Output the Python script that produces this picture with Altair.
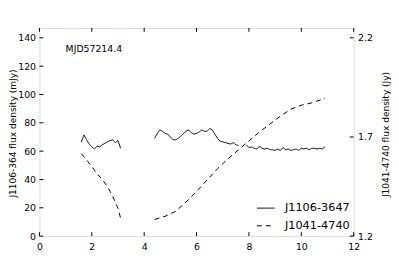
import altair as alt
import pandas as pd

# ---------------- data ----------------
series_names = ["J1106-3647", "J1041-4740"]

# J1106-3647 (mJy), three segments
s1_x = [1.6, 1.7, 1.8, 1.9, 2.0, 2.1, 2.2, 2.3, 2.4, 2.5, 2.6, 2.7, 2.8, 2.9, 3.0, 3.1]
s1_y = [66.5, 71.5, 68, 65, 63, 61.5, 63.5, 63, 64.5, 65.5, 66.5, 67.5, 68, 66, 67.5, 62]
s2_x = [4.4, 4.5, 4.6, 4.7, 4.8, 4.9, 5.0, 5.1, 5.2, 5.3, 5.4, 5.5, 5.6, 5.7, 5.8, 5.9, 6.0,
        6.1, 6.2, 6.3, 6.4, 6.5, 6.6, 6.7, 6.8, 6.9, 7.0, 7.1, 7.2, 7.3, 7.4, 7.5, 7.6]
s2_y = [69, 72.5, 75, 74, 72.5, 72, 70, 68, 68, 69, 70.5, 72.5, 74, 75, 73, 72, 72.5,
        73.5, 75, 74, 74, 76, 75, 72, 69, 67, 66.5, 66, 65.5, 65, 66, 64.5, 64]
s3_x = [7.9, 8.0, 8.1, 8.2, 8.3, 8.4, 8.5, 8.6, 8.7, 8.8, 8.9, 9.0, 9.1, 9.2, 9.3, 9.4,
        9.5, 9.6, 9.7, 9.8, 9.9, 10.0, 10.1, 10.2, 10.3, 10.4, 10.5, 10.6, 10.7, 10.8, 10.9]
s3_y = [64.5, 62.5, 63, 62, 61.5, 63.5, 62, 61.5, 62, 61, 61, 60.5, 61.5, 60.5, 62.5, 61,
        61.5, 60.5, 61, 61.5, 60.5, 62, 61.5, 62, 61, 62, 62, 61.5, 62, 61.5, 63]

# J1041-4740 (Jy), two segments
d1_x = [1.6, 1.8, 2.0, 2.2, 2.4, 2.6, 2.8, 2.9, 3.0, 3.1]
d1_y = [1.615, 1.585, 1.55, 1.515, 1.485, 1.45, 1.40, 1.37, 1.34, 1.29]
d2_x = [4.4, 4.8, 5.2, 5.6, 6.0, 6.4, 6.8, 7.2, 7.6, 8.0, 8.4, 8.8, 9.2, 9.6, 10.0, 10.4, 10.9]
d2_y = [1.284, 1.30, 1.325, 1.372, 1.425, 1.483, 1.54, 1.59, 1.635, 1.68, 1.725, 1.765,
        1.805, 1.84, 1.86, 1.872, 1.895]

x_ticks = [0, 2, 4, 6, 8, 10, 12]
left_ticks = [0, 20, 40, 60, 80, 100, 120, 140]
right_ticks = [1.2, 1.7, 2.2]

note_x = [1.0]
note_y = [132]
note_text = ["MJD57214.4"]

# ---------------- frames ----------------
def seg_frame(pairs, name):
    rows = []
    for i, (xs_, ys_) in enumerate(pairs):
        for a, b in zip(xs_, ys_):
            rows.append({"x": a, "y": b, "seg": i, "series": name})
    return pd.DataFrame(rows)

solid_df = seg_frame([(s1_x, s1_y), (s2_x, s2_y), (s3_x, s3_y)], series_names[0])
dash_df = seg_frame([(d1_x, d1_y), (d2_x, d2_y)], series_names[1])

W, H = 320, 212
FONT = "DejaVu Sans"

xs = alt.Scale(domain=[0, 12], nice=False, zero=False)
ls = alt.Scale(domain=[0, 147], nice=False, zero=False)
rs = alt.Scale(domain=[1.2, 2.25], nice=False, zero=False)

dash_scale = alt.Scale(domain=series_names, range=[[1, 0], [5, 4]])
legend = alt.Legend(
    title=None, orient="none", legendX=221, legendY=174,
    symbolType="stroke", symbolSize=324, symbolStrokeWidth=1,
    symbolStrokeColor="black", labelFontSize=11.5, labelOffset=10,
    rowPadding=3, labelFont=FONT, labelColor="black",
)

x_axis = alt.Axis(values=x_ticks, title=None, ticks=False, domain=False, grid=False,
                  labelPadding=6, labelFontSize=9.5, labelFlush=False, labelOverlap=False,
                  labelColor="black", labelFont=FONT)
left_axis = alt.Axis(orient="left", values=left_ticks, title="J1106-364 flux density (mJy)",
                     ticks=False, domain=False, grid=False, labelPadding=4,
                     labelFontSize=9.5, labelFlush=False, labelOverlap=False,
                     labelColor="black", labelFont=FONT,
                     titleX=-27.5, titleY=H / 2 + 1, titleAngle=270, titleBaseline="middle",
                     titleAlign="center", titleFontSize=9.2, titleFontWeight="normal",
                     titleColor="black", titleFont=FONT)
right_axis = alt.Axis(orient="right", values=right_ticks, format=".1f",
                      title="J1041-4740 flux density (Jy)",
                      ticks=False, domain=False, grid=False, labelPadding=4,
                      labelFontSize=9.5, labelFlush=False, labelOverlap=False,
                      labelColor="black", labelFont=FONT,
                      titleX=32, titleY=H / 2 + 2, titleAngle=270, titleBaseline="middle",
                      titleAlign="center", titleFontSize=9.2, titleFontWeight="normal",
                      titleColor="black", titleFont=FONT)

solid = alt.Chart(solid_df).mark_line(color="black", strokeWidth=1).encode(
    x=alt.X("x:Q", scale=xs, axis=x_axis),
    y=alt.Y("y:Q", scale=ls, axis=left_axis),
    detail="seg:N",
    strokeDash=alt.StrokeDash("series:N", scale=dash_scale, legend=legend),
)

dashed = alt.Chart(dash_df).mark_line(color="black", strokeWidth=1).encode(
    x=alt.X("x:Q", scale=xs, axis=None),
    y=alt.Y("y:Q", scale=rs, axis=right_axis),
    detail="seg:N",
    strokeDash=alt.StrokeDash("series:N", scale=dash_scale, legend=legend),
)

note = alt.Chart(pd.DataFrame({"x": note_x, "y": note_y, "t": note_text})).mark_text(
    align="left", baseline="middle", fontSize=9.5, font=FONT, color="black"
).encode(
    x=alt.X("x:Q", scale=xs, axis=None),
    y=alt.Y("y:Q", scale=ls, axis=None),
    text="t:N",
)

xt_df = pd.DataFrame({"v": x_ticks})
xt_bottom = alt.Chart(xt_df).mark_rule(color="black", strokeWidth=1).encode(
    x=alt.X("v:Q", scale=xs, axis=None), y=alt.value(H), y2=alt.value(H - 4))
xt_top = alt.Chart(xt_df).mark_rule(color="black", strokeWidth=1).encode(
    x=alt.X("v:Q", scale=xs, axis=None), y=alt.value(0), y2=alt.value(4))
yl_ticks = alt.Chart(pd.DataFrame({"v": left_ticks})).mark_rule(color="black", strokeWidth=1).encode(
    y=alt.Y("v:Q", scale=ls, axis=None), x=alt.value(0), x2=alt.value(4))
yr_ticks = alt.Chart(pd.DataFrame({"v": right_ticks})).mark_rule(color="black", strokeWidth=1).encode(
    y=alt.Y("v:Q", scale=rs, axis=None), x=alt.value(W), x2=alt.value(W - 4))

chart = alt.layer(
    solid, dashed, note, xt_bottom, xt_top, yl_ticks, yr_ticks
).resolve_scale(
    x="independent", y="independent"
).properties(
    width=W, height=H,
    autosize=alt.AutoSizeParams(type="none"),
    padding={"left": 32, "top": 18, "right": 38, "bottom": 20},
    background="white",
).configure_view(
    stroke="black", strokeWidth=1
).configure(font=FONT)

chart.save("out.html", embed_options={"renderer": "svg", "actions": False})
